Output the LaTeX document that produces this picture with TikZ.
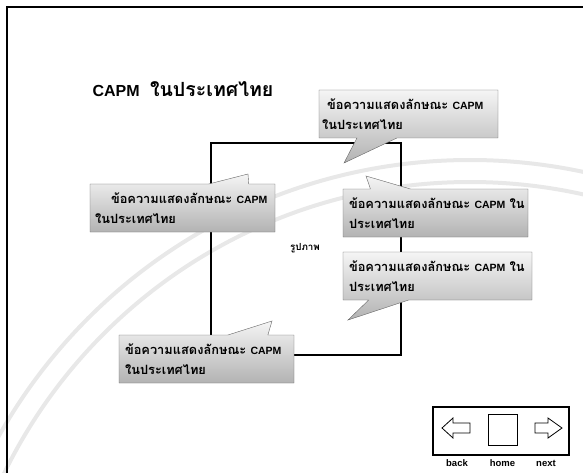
\documentclass[tikz,border=0pt]{standalone}
\usepackage{fontspec}
\setmainfont{Liberation Sans}
\newfontfamily\thaifont[Script=Thai,Scale=1.22]{Loma}
\newfontfamily\latinfont{Liberation Sans}
\usetikzlibrary{shapes.callouts}
\newcommand\capmtxt{{\latinfont\bfseries CAPM}}
\tikzset{
  bubble/.style={rectangle callout, draw=black!60, top color=gray!8, bottom color=gray!60,
    minimum height=48pt, inner sep=3pt, align=left, anchor=center,
    callout pointer width=40pt, font=\thaifont\bfseries\fontsize{10.5}{20}\selectfont},
  navlabel/.style={font=\latinfont\bfseries\fontsize{9.5}{10}\selectfont},
  ring/.style={draw=gray!18, line width=4pt},
}
\begin{document}
\begin{tikzpicture}[x=1pt,y=-1pt]
        \useasboundingbox (0,0) rectangle (583,473);
        % background seal
        \begin{scope}
          \clip (0,0) rectangle (583,473);
          \draw[ring] (470,700) circle (540);
          \draw[ring] (470,700) circle (518);
        \end{scope}
        % define point
        \coordinate (T1) at (344,163);
        \coordinate (T2) at (248,174);
        \coordinate (T3) at (366,176);
        \coordinate (T4) at (348,320);
        \coordinate (T5) at (272,321);
        % frame
        \draw[line width=2.5pt] (7,473) -- (7,7) -- (583,7);
        % title
        \node[anchor=west, font=\latinfont\bfseries\fontsize{16}{18}\selectfont] (title) at (89,89)
          {CAPM\hspace{6pt} {\thaifont ในประเทศไทย}};
        % picture box
        \draw[line width=1.2pt] (211,143) rectangle (401,355);
        \node[font=\thaifont\bfseries\fontsize{8}{10}\selectfont] (pic) at (305,248) {รูปภาพ};
        % callouts
        \node[bubble, text width=173pt, callout absolute pointer={(T1)}] (c1) at (408.5,114)
          {\mbox{\hspace*{5pt}ข้อความแสดงลักษณะ~\capmtxt}\\ในประเทศไทย};
        \node[bubble, text width=179pt, callout absolute pointer={(T2)}] (c2) at (182.5,208)
          {\mbox{\hspace*{18pt}ข้อความแสดงลักษณะ~\capmtxt}\\\hspace*{2pt}ในประเทศไทย};
        \node[bubble, text width=179pt, callout absolute pointer={(T3)}] (c3) at (435.5,213)
          {\mbox{\hspace*{3pt}ข้อความแสดงลักษณะ~\capmtxt~ใน}\\\hspace*{3pt}ประเทศไทย};
        \node[bubble, text width=183pt, callout absolute pointer={(T4)}] (c4) at (437.5,276)
          {\mbox{\hspace*{3pt}ข้อความแสดงลักษณะ~\capmtxt~ใน}\\\hspace*{3pt}ประเทศไทย};
        \node[bubble, text width=169pt, callout absolute pointer={(T5)}] (c5) at (206.5,359)
          {\mbox{\hspace*{3pt}ข้อความแสดงลักษณะ~\capmtxt}\\\hspace*{3pt}ในประเทศไทย};
        % navigation
        \node[draw, line width=1.2pt, minimum width=136pt, minimum height=48pt] (nav) at (501,431) {};
        \draw[thick] (442,428) -- (453,418) -- (453,423) -- (470,423) -- (470,433) -- (453,433) -- (453,438) -- cycle;
        \node[draw, thick, minimum width=29pt, minimum height=31pt] (home) at (502.5,429.5) {};
        \draw[thick] (562,428) -- (548,418) -- (548,423) -- (535,423) -- (535,433) -- (548,433) -- (548,438) -- cycle;
        \node[navlabel] (back) at (457,463) {back};
        \node[navlabel] (homelbl) at (502.5,463) {home};
        \node[navlabel] (next) at (546,463) {next};
    \end{tikzpicture}
\end{document}
